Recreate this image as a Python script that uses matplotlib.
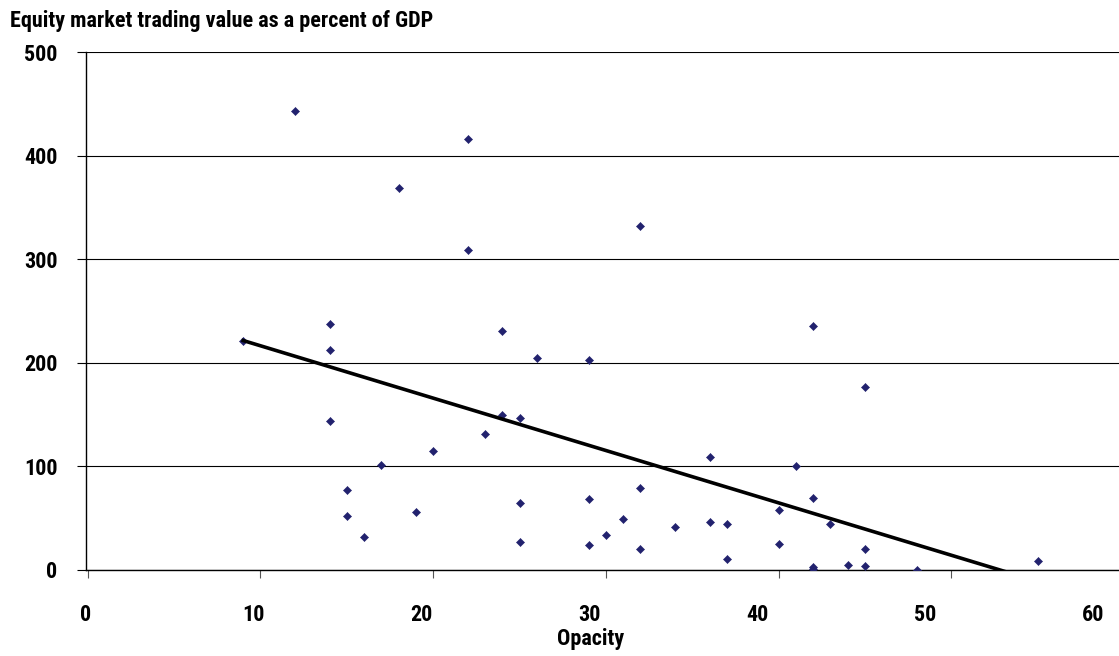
import numpy as np
import matplotlib
matplotlib.use("Agg")
import matplotlib.pyplot as plt
from matplotlib import font_manager as fm
from matplotlib.textpath import TextPath

# opacity index vs equity market trading value (% of GDP)
opacity = [9, 12, 14, 14, 14, 15, 15, 16, 17, 18, 19, 20, 22, 22, 23, 24,
           24, 25, 25, 25, 26, 29, 29, 29, 30, 31, 32, 32, 32, 34, 36, 36,
           37, 37, 40, 40, 41, 42, 42, 42, 42, 43, 44, 45, 45, 45, 48, 55]
trading = [221, 443, 238, 212, 144, 77, 52, 32, 101, 369, 56, 115, 416, 309,
           131, 231, 150, 147, 65, 27, 205, 203, 69, 24, 34, 49, 332, 79, 20,
           42, 109, 46, 44, 11, 58, 25, 100, 236, 70, 3, 0.5, 44, 5, 177, 20,
           4, 0, 9]
xticks = [0, 10, 20, 30, 40, 50, 60]
yticks = [0, 100, 200, 300, 400, 500]
title = "Equity market trading value as a percent of GDP"

# the original uses a bold condensed face; take the first one installed
wanted = ["liberationsansnarrow-bold", "notosans-condensedbold",
          "notosans-condensedsemibold", "opensans-condensedbold",
          "opensans_condensed-bold", "robotocondensed-bold",
          "notosans-semicondensedbold", "dejavusanscondensed-bold"]
files = {}
for f in fm.fontManager.ttflist:
    key = f.fname.replace("\\", "/").split("/")[-1].rsplit(".", 1)[0].lower()
    files[key] = f.fname
fname = next((files[k] for k in wanted if k in files), None)
if fname:
    prop = fm.FontProperties(fname=fname)
else:
    prop = fm.FontProperties(family="DejaVu Sans", weight="bold")

cap = TextPath((0, 0), "E", size=100, prop=prop).get_extents().height / 100
wid = TextPath((0, 0), title, size=100, prop=prop).get_extents().width / 100
fs_cap = 15.7 / cap * 0.72       # cap height ~15.7 px
fs_wid = 417 / wid * 0.72 * 1.08  # title ~417 px wide
fs = min(fs_cap, fs_wid)

fig = plt.figure(figsize=(11.19, 6.56), dpi=100)
ax = fig.add_axes([0.0769, 0.1311, 0.9276, 0.7892])

x = np.array(opacity, dtype=float)
y = np.array(trading, dtype=float)
ax.scatter(x, y, marker="D", s=17, color="#22226e", linewidths=0.4,
           edgecolors="#22226e", zorder=3)

# linear trend
slope, icpt = np.polyfit(x, y, 1)
xl = np.array([x.min(), x.max()])
ax.plot(xl, slope * xl + icpt, color="black", lw=2.6, zorder=4)

ax.set_xlim(0, 60)
ax.set_ylim(0, 500)
ax.set_yticks(yticks)
ax.set_yticklabels([str(v) for v in yticks], fontproperties=prop, fontsize=fs)
ax.grid(axis="y", color="black", lw=0.8)
ax.set_axisbelow(True)

# tick marks at true positions, labels drawn slightly left like the original
ax.set_xticks(xticks)
ax.set_xticklabels([])
ax.set_xticks([v * 0.9717 - 0.1 for v in xticks], minor=True)
ax.set_xticklabels([str(v) for v in xticks], minor=True, fontproperties=prop,
                   fontsize=fs)
ax.tick_params(axis="x", which="major", length=5.8, width=0.8, color="#555555",
               direction="out")
ax.tick_params(axis="x", which="minor", length=0, pad=24.5)
ax.tick_params(axis="y", length=6.5, width=0.8, color="black", pad=14)

for s in ["top", "right"]:
    ax.spines[s].set_visible(False)
ax.spines["left"].set_linewidth(1.0)
ax.spines["bottom"].set_linewidth(1.0)

ax.set_xlabel("Opacity", fontproperties=prop, fontsize=fs)
ax.xaxis.set_label_coords(0.4865, -0.112)

fig.text(10 / 1119, 1 - 27 / 656, title, ha="left", va="baseline",
         fontproperties=prop, fontsize=fs)

fig.savefig("out.png", dpi=100)
plt.close(fig)
